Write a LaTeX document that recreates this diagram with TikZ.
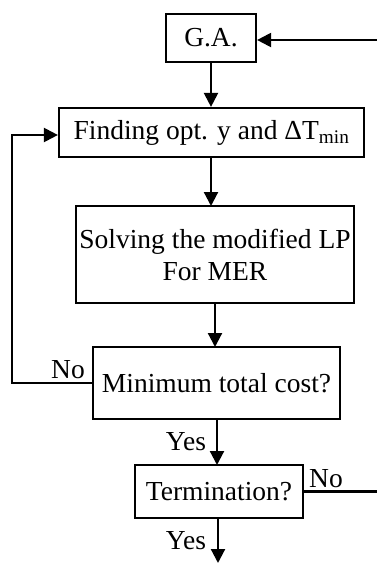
\documentclass[tikz,border=0pt]{standalone}
\usepackage{fontspec}
\setmainfont{Liberation Serif}
\usetikzlibrary{arrows.meta}
\begin{document}
\begin{tikzpicture}[x=1pt,y=-1pt,
  box/.style={draw,line width=2.2pt,minimum width=#1,inner sep=0pt,align=center,
    font=\fontsize{27.5}{32}\selectfont},
  lbl/.style={inner sep=0pt,font=\fontsize{27.5}{32}\selectfont},
  arr/.style={line width=2.2pt,-{Triangle[length=14pt,width=14pt]}}]
\useasboundingbox (0,0) rectangle (377,563);
\node[box=90pt,minimum height=48pt] (ga) at (211,38) {G.A.};
\node[box=305pt,minimum height=49pt] (find) at (211.5,132.5) {Finding opt. y and ΔT\textsubscript{min}};
\node[box=278pt,minimum height=97pt] (solve) at (215,254.5) {Solving the modified LP\\For MER};
\node[box=247pt,minimum height=72pt] (mint) at (216.5,383) {Minimum total cost?};
\node[box=168pt,minimum height=53pt] (term) at (219,491.5) {Termination?};
\coordinate (bend) at (218,563);
\coordinate (r1) at (377,491.5);
\coordinate (r2) at (377,40);
\coordinate (l1) at (12,383);
\coordinate (l2) at (12,135);
\draw[arr] (ga.south) -- (ga.south |- find.north);
\draw[arr] (211,157) -- (211,206);
\draw[arr] (215,303) -- (215,347);
\draw[arr] (217,419) -- (217,465);
\draw[arr] (218,518) -- (bend);
\draw[line width=2.2pt] (term.east) -- (r1);
\draw[arr] (r2) -- (r2 -| ga.east);
\draw[arr] (mint.west) -- (l1) -- (l2) -- (l2 -| find.west);
\node[lbl] (no1) at (68,370) {No};
\node[lbl] (yes1) at (186,442) {Yes};
\node[lbl] (no2) at (326,479) {No};
\node[lbl] (yes2) at (186,541) {Yes};
\end{tikzpicture}
\end{document}
